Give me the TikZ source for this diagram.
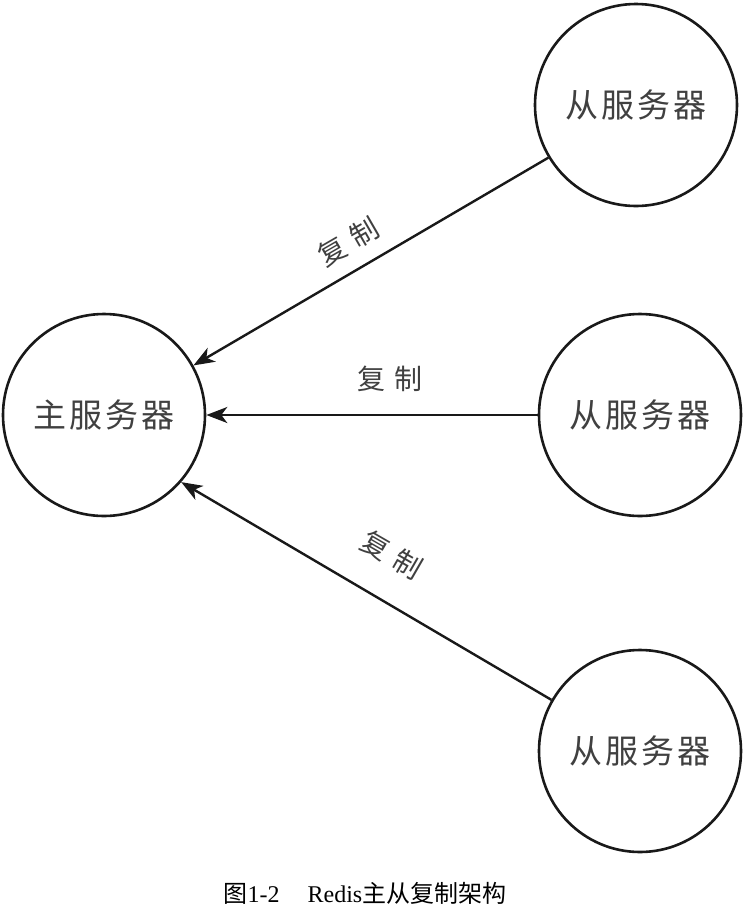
\documentclass[tikz,border=0pt]{standalone}
\usepackage{fontspec}
\setmainfont{Liberation Serif}
\newfontfamily\cjk{Noto Sans CJK SC}
\usetikzlibrary{arrows.meta}
\tikzset{
  server/.style={circle, draw=black!90, line width=2.6pt, minimum size=202pt, inner sep=0pt,
    font=\cjk\fontsize{33}{38}\selectfont, text=black!75},
  link/.style={line width=2.4pt, draw=black!90, -{Stealth[length=21pt,width=16pt,inset=6pt]}},
  lbl/.style={font=\cjk\fontsize{28}{32}\selectfont, text=black!75, inner sep=0pt},
  captiontext/.style={font=\fontsize{24}{28}\selectfont, inner sep=0pt}
}
\newcommand{\sv}[4]{#1\hspace{3pt}#2\hspace{3pt}#3\hspace{3pt}#4}
\begin{document}
\begin{tikzpicture}[x=1pt,y=-1pt]
\path[use as bounding box, fill=white] (0,0) rectangle (744,914);
\node[server] (m) at (104,415) {\sv{主}{服}{务}{器}};
\node[server] (s1) at (636,105) {\sv{从}{服}{务}{器}};
\node[server] (s2) at (640,415) {\sv{从}{服}{务}{器}};
\node[server] (s3) at (640,751) {\sv{从}{服}{务}{器}};
\draw[link] (s1.211) -- (m.29);
\draw[link] (s2.west) -- (m.east);
\draw[link] (s3.150) -- (m.-41);
\node[lbl, rotate=30] (l1) at (348,242) {复\hspace{9pt}制};
\node[lbl] (l2) at (390,379) {复\hspace{9pt}制};
\node[lbl, rotate=-30] (l3) at (392,555) {复\hspace{9pt}制};
\node[captiontext] (c) at (365,893) {{\cjk 图}1-2\hspace{28pt}Redis{\cjk 主从复制架构}};
\end{tikzpicture}
\end{document}
